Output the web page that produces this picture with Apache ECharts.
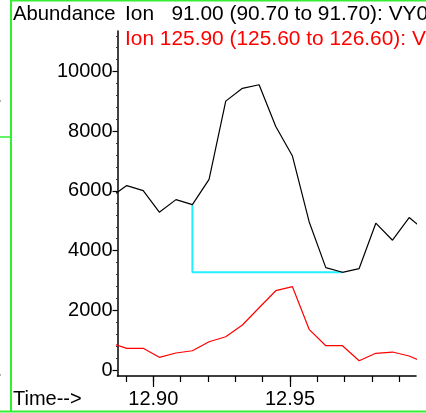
<!DOCTYPE html>
<html>
<head>
<meta charset="utf-8">
<script src="https://cdn.jsdelivr.net/npm/echarts@6/dist/echarts.min.js"></script>
<style>
  html, body { margin: 0; padding: 0; background: #fff; }
  #chart { width: 426px; height: 413px; }
</style>
</head>
<body>
<div id="chart"></div>
<script>
// Retention time (min) of each scan
const times = [12.8842, 12.8903, 12.8963, 12.9022, 12.9083, 12.9143, 12.9204, 12.9265, 12.9326, 12.9387,
               12.9448, 12.9509, 12.9570, 12.9631, 12.9692, 12.9753, 12.9814, 12.9875, 12.9936, 12.9996];
// Extracted ion abundances
const ion91 = [5780, 6180, 6010, 5290, 5710, 5540, 6390, 9010, 9440, 9560,
               8160, 7170, 4970, 3430, 3275, 3400, 4920, 4350, 5110, 4650];
const ion126 = [900, 727, 727, 426, 570, 647, 949, 1116, 1509, 2088,
                2658, 2792, 1364, 815, 815, 312, 560, 603, 469, 231];
// Integration window (scan indices) for the m/z 91 peak
const integStart = 5;
const integEnd = 14;

// Axis ranges and ticks
const xRange = [12.8869, 12.9961];
const xMajorTicks = [12.90, 12.95];
const xMinorTicks = [12.89, 12.90, 12.91, 12.92, 12.93, 12.94, 12.95, 12.96, 12.97, 12.98, 12.99];
const yRange = [-200, 11360];
const yMajorTicks = [0, 2000, 4000, 6000, 8000, 10000];
const yMinorTicks = [400, 800, 1200, 1600, 2400, 2800, 3200, 3600, 4400, 4800, 5200, 5600,
                     6400, 6800, 7200, 7600, 8400, 8800, 9200, 9600, 10400, 10800, 11200];

const headerAbundance = 'Abundance';
const headerIon1 = 'Ion   91.00 (90.70 to 91.70): VY0';
const headerIon2 = 'Ion 125.90 (125.60 to 126.60): VY0';
const xTitle = 'Time-->';

const FONT = 'Arial, "Liberation Sans", sans-serif';
const GREEN = '#33ee33';

const pair = (xs, ys) => xs.map((x, i) => [x, ys[i]]);

let peakIdx = 0;
ion91.forEach((v, i) => { if (v > ion91[peakIdx]) peakIdx = i; });

const blackData = pair(times, ion91).map((p, i) => i === peakIdx ? {
  value: p,
  label: {
    show: true, position: 'top', distance: 3,
    formatter: () => times[peakIdx].toFixed(2),
    fontSize: 20, fontFamily: FONT, color: '#000'
  }
} : p);

const baseline = [
  [times[integStart], ion91[integStart]],
  [times[integStart], ion91[integEnd]],
  [times[integEnd], ion91[integEnd]]
];

const chart = echarts.init(document.getElementById('chart'), null, { renderer: 'canvas' });

const axisFont = { fontSize: 20, fontFamily: FONT, color: '#000' };

chart.setOption({
  animation: false,
  backgroundColor: '#fff',
  grid: { left: 117.5, right: 10, top: 31, bottom: 37 },
  xAxis: [
    {
      type: 'value', position: 'bottom', min: xRange[0], max: xRange[1],
      axisLine: { show: true, onZero: false, lineStyle: { color: '#000', width: 1.6 } },
      axisTick: { show: true, customValues: xMinorTicks, length: 6, lineStyle: { color: '#000', width: 1.2 } },
      axisLabel: { show: false },
      splitLine: { show: false }
    },
    {
      type: 'value', position: 'bottom', min: xRange[0], max: xRange[1],
      axisLine: { show: false, onZero: false },
      axisTick: { show: true, customValues: xMajorTicks, length: 11, lineStyle: { color: '#000', width: 1.2 } },
      axisLabel: Object.assign({ customValues: xMajorTicks, margin: 13, formatter: v => v.toFixed(2) }, axisFont),
      splitLine: { show: false }
    }
  ],
  yAxis: [
    {
      type: 'value', position: 'left', min: yRange[0], max: yRange[1],
      axisLine: { show: true, onZero: false, lineStyle: { color: '#000', width: 1.5 } },
      axisTick: { show: true, customValues: yMinorTicks, length: 1.5, lineStyle: { color: '#333', width: 1 } },
      axisLabel: { show: false },
      splitLine: { show: false }
    },
    {
      type: 'value', position: 'left', min: yRange[0], max: yRange[1],
      axisLine: { show: false, onZero: false },
      axisTick: { show: true, customValues: yMajorTicks, length: 5, lineStyle: { color: '#000', width: 1.2 } },
      axisLabel: Object.assign({ customValues: yMajorTicks, margin: 5, formatter: v => String(v) }, axisFont),
      splitLine: { show: false }
    }
  ],
  series: [
    {
      type: 'line', xAxisIndex: 0, yAxisIndex: 0, data: pair(times, ion126),
      symbol: 'none', clip: true,
      lineStyle: { color: '#ff0000', width: 1.2 }
    },
    {
      type: 'line', xAxisIndex: 0, yAxisIndex: 0, data: baseline,
      symbol: 'none', clip: true,
      lineStyle: { color: '#22f0ff', width: 2 }
    },
    {
      type: 'line', xAxisIndex: 0, yAxisIndex: 0, data: blackData,
      symbol: 'none', clip: true,
      lineStyle: { color: '#000', width: 1.2 }
    }
  ],
  graphic: [
    { type: 'line', shape: { x1: 11, y1: 0, x2: 11, y2: 412 }, style: { stroke: GREEN, lineWidth: 2 } },
    { type: 'line', shape: { x1: 11, y1: 0.75, x2: 426, y2: 0.75 }, style: { stroke: GREEN, lineWidth: 1.5 } },
    { type: 'line', shape: { x1: 0, y1: 411.5, x2: 426, y2: 411.5 }, style: { stroke: GREEN, lineWidth: 2 } },
    { type: 'line', shape: { x1: 0, y1: 137, x2: 11, y2: 137 }, style: { stroke: GREEN, lineWidth: 1.5 } },
    { type: 'rect', shape: { x: 0, y: 100.5, width: 1, height: 1 }, style: { fill: '#666' } },
    { type: 'rect', shape: { x: 0, y: 374.5, width: 1, height: 1 }, style: { fill: '#666' } },
    { type: 'text', style: { x: 13, y: 14, text: headerAbundance, font: '20.3px ' + FONT, fill: '#000', verticalAlign: 'middle' } },
    { type: 'text', style: { x: 125, y: 14, text: headerIon1, font: '20.9px ' + FONT, fill: '#000', verticalAlign: 'middle' } },
    { type: 'text', style: { x: 125, y: 39, text: headerIon2, font: '20.9px ' + FONT, fill: '#ff0000', verticalAlign: 'middle' } },
    { type: 'text', style: { x: 13, y: 399, text: xTitle, font: '20px ' + FONT, fill: '#000', verticalAlign: 'middle' } }
  ]
});
</script>
</body>
</html>
